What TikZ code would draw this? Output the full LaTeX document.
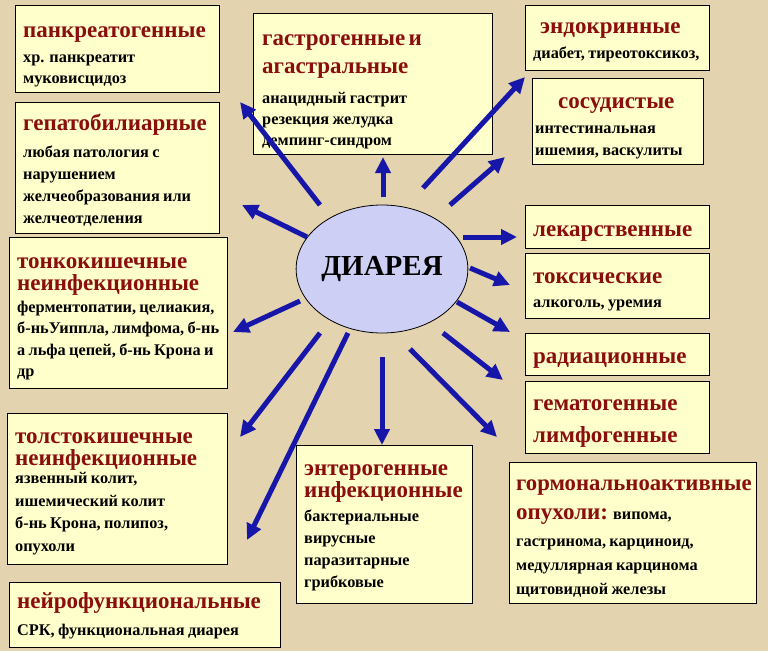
\documentclass[tikz,border=0pt]{standalone}
\usepackage{fontspec}
\setmainfont{Liberation Serif}
\usetikzlibrary{arrows.meta, shapes.geometric}
\definecolor{parchment}{RGB}{228,211,175}
\definecolor{boxyellow}{RGB}{255,255,204}
\definecolor{ttlred}{RGB}{138,14,14}
\definecolor{arrblue}{RGB}{22,22,168}
\definecolor{dialav}{RGB}{205,207,245}
\tikzset{
  cbox/.style={draw=black, line width=0.8pt, fill=boxyellow, anchor=north west, inner sep=0}, % frame of each group
  ctext/.style={anchor=north west, inner sep=0, text width=260pt, align=left, font=\bfseries}, % text inside a frame
  arr/.style={draw=arrblue, line width=5pt, -{Triangle[length=16pt,width=15pt]}}, % thick blue arrows
}
% title lines (dark red) and body lines
\newcommand{\hd}[2][22]{{\color{ttlred}\fontsize{23}{#1}\selectfont\rule{0pt}{19pt}#2\par}}
\newcommand{\bd}[3][21.5]{{\fontsize{16.3}{#1}\selectfont\vspace*{#2pt}#3\par}}

\begin{document}
\begin{tikzpicture}[x=1pt, y=-1pt]
  \fill[parchment] (0,0) rectangle (768,651);
  \useasboundingbox (0,0) rectangle (768,651);

  % left column
  \node[cbox, minimum width=204, minimum height=87] (pank) at (15,5) {};
  \node[ctext] at ([shift={(8,13)}]pank.north west) {\hd{панкреатогенные}\bd{3.5}{хр. панкреатит\\муковисцидоз}};
  \node[cbox, minimum width=204, minimum height=131] (gepato) at (15,102) {};
  \node[ctext] at ([shift={(8,9)}]gepato.north west) {\hd{гепатобилиарные}\bd[22]{5.5}{любая патология с\\нарушением\\желчеобразования или\\желчеотделения}};
  \node[cbox, minimum width=218, minimum height=151] (tonk) at (9,237) {};
  \node[ctext] at ([shift={(8,12)}]tonk.north west) {\hd[22]{тонкокишечные\\неинфекционные}\bd[21.5]{0.5}{ферментопатии, целиакия,\\б-ньУиппла, лимфома, б-нь\\а льфа цепей, б-нь Крона и\\др}};
  \node[cbox, minimum width=220, minimum height=151] (tolst) at (7,413) {};
  \node[ctext] at ([shift={(8,11)}]tolst.north west) {\hd[22]{толстокишечные\\неинфекционные}\bd[22.5]{-4}{язвенный колит,\\ишемический колит\\б-нь Крона, полипоз,\\опухоли}};
  \node[cbox, minimum width=271, minimum height=65] (neiro) at (9,582) {};
  \node[ctext] at ([shift={(8,7)}]neiro.north west) {\hd{нейрофункциональные}\bd{5.5}{СРК, функциональная диарея}};

  % middle column
  \node[cbox, minimum width=239, minimum height=141] (gastro) at (253,13) {};
  \node[ctext] at ([shift={(9,13)}]gastro.north west) {\hd[28]{гастрогенные и\\агастральные}\bd[21]{9.5}{анацидный гастрит\\резекция желудка\\демпинг-синдром}};
  \node[cbox, minimum width=176, minimum height=158] (entero) at (296,445) {};
  \node[ctext] at ([shift={(8,11)}]entero.north west) {\hd[22]{энтерогенные\\инфекционные}\bd[22]{2}{бактериальные\\вирусные\\паразитарные\\грибковые}};

  % right column
  \node[cbox, minimum width=184, minimum height=65] (endo) at (525,5) {};
  \node[ctext] at ([shift={(8,9)}]endo.north west) {\hd{\hspace*{7pt}эндокринные}\bd{3.5}{диабет, тиреотоксикоз,}};
  \node[cbox, minimum width=171, minimum height=86] (sosud) at (532,78) {};
  \node[ctext] at ([shift={(3,11)}]sosud.north west) {\hd{\hspace*{23pt}сосудистые}\bd[22]{3.5}{интестинальная\\ишемия, васкулиты}};
  \node[cbox, minimum width=184, minimum height=43] (lek) at (525,205) {};
  \node[ctext] at ([shift={(8,12)}]lek.north west) {\hd{лекарственные}};
  \node[cbox, minimum width=184, minimum height=65] (toks) at (525,253) {};
  \node[ctext] at ([shift={(8,11)}]toks.north west) {\hd{токсические}\bd{2.5}{алкоголь, уремия}};
  \node[cbox, minimum width=184, minimum height=42] (rad) at (525,333) {};
  \node[ctext] at ([shift={(8,11)}]rad.north west) {\hd{радиационные}};
  \node[cbox, minimum width=184, minimum height=72] (gemato) at (525,381) {};
  \node[ctext] at ([shift={(8,10)}]gemato.north west) {\hd[32]{гематогенные\\лимфогенные}};
  \node[cbox, minimum width=247, minimum height=141] (gorm) at (509,462) {};
  \node[ctext] at ([shift={(7,9)}]gorm.north west) {\hd[29]{{\fontsize{22.7}{29}\selectfont гормональноактивные}\\опухоли: {\color{black}\fontsize{16.3}{29}\selectfont випома,}}\bd[24]{3.5}{гастринома, карциноид,\\медуллярная карцинома\\щитовидной железы}};

  % centre
  \node[ellipse, draw=black, line width=0.8pt, fill=dialav, minimum width=162, minimum height=128, inner sep=0,
        font=\bfseries\fontsize{29}{30}\selectfont] (dia) at (382,269) {ДИАРЕЯ};

  % arrow ends
  \coordinate (s1) at (320,205);  \coordinate (t1) at (240,102);
  \coordinate (s2) at (307,237);  \coordinate (t2) at (242,205);
  \coordinate (s3) at (300,301);  \coordinate (t3) at (233,332);
  \coordinate (s4) at (320,333);  \coordinate (t4) at (240,437);
  \coordinate (s5) at (348,333);  \coordinate (t5) at (247,540);
  \coordinate (s6) at (382,357);  \coordinate (t6) at (382,445);
  \coordinate (s7) at (410,349);  \coordinate (t7) at (497,437);
  \coordinate (s8) at (443,333);  \coordinate (t8) at (503,380);
  \coordinate (s9) at (457,302);  \coordinate (t9) at (510,332);
  \coordinate (s10) at (470,268); \coordinate (t10) at (510,285);
  \coordinate (s11) at (463,237); \coordinate (t11) at (517,237);
  \coordinate (s12) at (450,205); \coordinate (t12) at (505,157);
  \coordinate (s13) at (423,188); \coordinate (t13) at (525,77);
  \coordinate (s14) at (383,197); \coordinate (t14) at (383,157);

  \foreach \i in {1,...,14}
    \draw[arr] (s\i) -- (t\i);
\end{tikzpicture}
\end{document}
